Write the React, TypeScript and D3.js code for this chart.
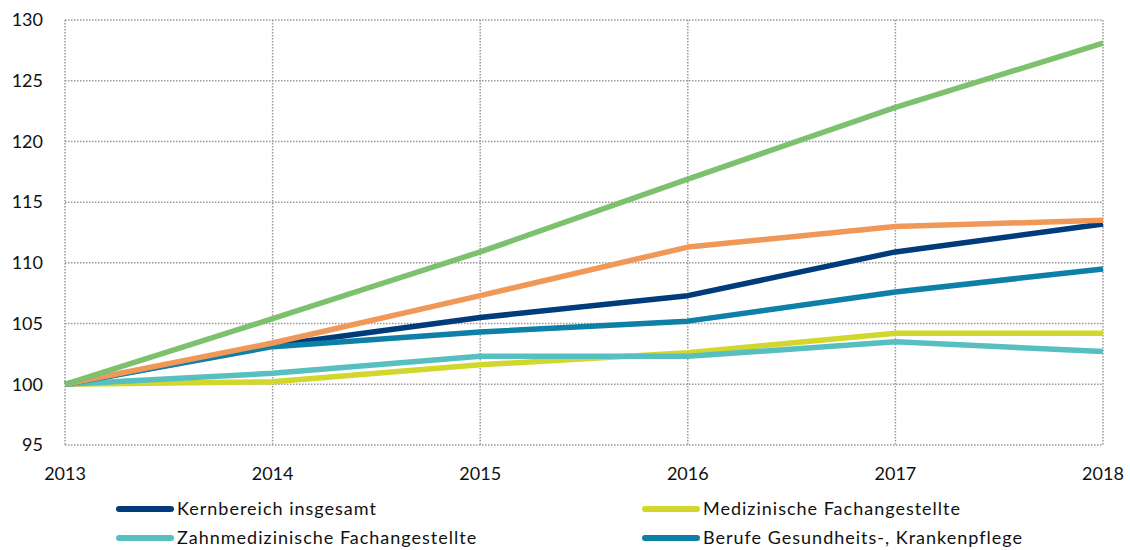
import React, { useEffect, useRef } from 'react';
import * as d3 from 'd3';

const years = [2013, 2014, 2015, 2016, 2017, 2018];
const yTicks = [95, 100, 105, 110, 115, 120, 125, 130];

const kernbereich = [100, 103.2, 105.5, 107.3, 110.9, 113.2];
const medizinische = [100, 100.2, 101.6, 102.6, 104.2, 104.2];
const zahnmedizinische = [100, 100.9, 102.3, 102.3, 103.5, 102.7];
const gesundheitspflege = [100, 103.1, 104.3, 105.2, 107.6, 109.5];
const orangeSeries = [100, 103.4, 107.3, 111.3, 113.0, 113.5];
const greenSeries = [100, 105.4, 110.9, 116.9, 122.8, 128.1];

interface Series {
  name: string;
  values: number[];
  color: string;
  legend: boolean;
}

const series: Series[] = [
  { name: 'Kernbereich insgesamt', values: kernbereich, color: '#003b7b', legend: true },
  { name: 'Medizinische Fachangestellte', values: medizinische, color: '#d1d72c', legend: true },
  { name: 'Zahnmedizinische Fachangestellte', values: zahnmedizinische, color: '#57bfc0', legend: true },
  { name: 'Berufe Gesundheits-, Krankenpflege', values: gesundheitspflege, color: '#0e7fa6', legend: true },
  { name: 'orange', values: orangeSeries, color: '#f09857', legend: false },
  { name: 'green', values: greenSeries, color: '#7dc16f', legend: false },
];

const width = 1130;
const height = 550;
const margin = { top: 20, right: 27, bottom: 105, left: 65 };
const font = 'Lato, "Open Sans", sans-serif';

const App: React.FC = () => {
  const svgRef = useRef<SVGSVGElement>(null);

  useEffect(() => {
    if (!svgRef.current) return;
    const svg = d3.select(svgRef.current);
    svg.selectAll('*').remove();

    const chartWidth = width - margin.left - margin.right;
    const chartHeight = height - margin.top - margin.bottom;

    const xScale = d3.scaleLinear()
      .domain([2013, 2018])
      .range([0, chartWidth]);

    const yScale = d3.scaleLinear()
      .domain([95, 130])
      .range([chartHeight, 0]);

    const g = svg.append('g')
      .attr('transform', `translate(${margin.left},${margin.top})`);

    // dotted grid
    g.selectAll('line.hgrid')
      .data(yTicks)
      .enter()
      .append('line')
      .attr('x1', 0)
      .attr('x2', chartWidth)
      .attr('y1', d => yScale(d))
      .attr('y2', d => yScale(d))
      .attr('stroke', '#999')
      .attr('stroke-width', 1.5)
      .attr('stroke-dasharray', '1.5,1.5');

    g.selectAll('line.vgrid')
      .data(years)
      .enter()
      .append('line')
      .attr('x1', d => xScale(d))
      .attr('x2', d => xScale(d))
      .attr('y1', 0)
      .attr('y2', chartHeight)
      .attr('stroke', '#999')
      .attr('stroke-width', 1.5)
      .attr('stroke-dasharray', '1.5,1.5');

    // tick labels
    g.selectAll('text.ylab')
      .data(yTicks)
      .enter()
      .append('text')
      .attr('x', -22)
      .attr('y', d => yScale(d))
      .attr('dy', '0.35em')
      .attr('text-anchor', 'end')
      .style('font-family', font)
      .style('font-size', '18px')
      .attr('fill', '#111')
      .text(d => d);

    g.selectAll('text.xlab')
      .data(years)
      .enter()
      .append('text')
      .attr('x', d => xScale(d))
      .attr('y', chartHeight + 35)
      .attr('text-anchor', 'middle')
      .style('font-family', font)
      .style('font-size', '18px')
      .attr('fill', '#111')
      .text(d => d);

    // lines
    const line = d3.line<number>()
      .x((_, i) => xScale(years[i]))
      .y(d => yScale(d));

    g.selectAll('path.series')
      .data(series)
      .enter()
      .append('path')
      .attr('d', d => line(d.values))
      .attr('fill', 'none')
      .attr('stroke', d => d.color)
      .attr('stroke-width', 5.5)
      .attr('stroke-linejoin', 'round');

    // legend (2 columns)
    const legendItems = series.filter(s => s.legend);
    const legend = svg.append('g');
    legendItems.forEach((s, i) => {
      const col = i % 2;
      const row = Math.floor(i / 2);
      const x0 = col === 0 ? 117 : 643;
      const y0 = 509 + row * 29;
      legend.append('line')
        .attr('x1', x0 + 2)
        .attr('x2', x0 + 54)
        .attr('y1', y0)
        .attr('y2', y0)
        .attr('stroke', s.color)
        .attr('stroke-width', 6)
        .attr('stroke-linecap', 'round');
      legend.append('text')
        .attr('x', x0 + 60)
        .attr('y', y0)
        .attr('dy', '0.35em')
        .style('font-family', font)
        .style('font-size', '18px')
        .style('letter-spacing', '1px')
        .attr('fill', '#111')
        .text(s.name);
    });
  }, []);

  return (
    <svg
      ref={svgRef}
      width={width}
      height={height}
      style={{ position: 'absolute', left: 0, top: 0 }}
    />
  );
};

export default App;
